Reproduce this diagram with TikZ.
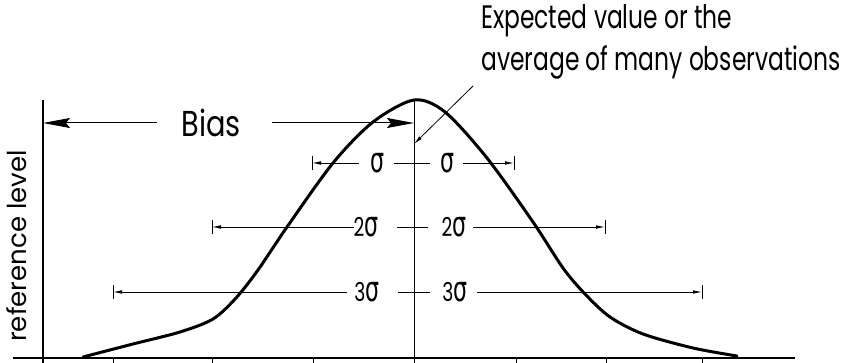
\documentclass[tikz,border=0pt]{standalone}
\usepackage{fontspec}
\usepackage{graphicx}
\setmainfont{Poppins}[FakeStretch=0.72]
\newfontfamily\pbias{Poppins}[FakeStretch=0.8]
\newfontfamily\pref{Poppins}
\newfontfamily\grk{DejaVu Sans}[FakeStretch=0.85]
\usetikzlibrary{arrows.meta}
\newcommand{\sgm}{{\grk\scalebox{1}[1.35]{σ}}}
\begin{document}
\begin{tikzpicture}[x=1pt,y=-1pt,
  axisline/.style={line width=1.3pt},
  thinline/.style={line width=0.8pt},
  curveline/.style={line width=3pt,line cap=round,line join=round},
  dimarrow/.style={line width=0.8pt,-{Latex[length=9pt,width=3.6pt]}},
  bigarrow/.style={line width=1pt,-{Stealth[length=27pt,width=10pt,inset=4pt]}},
  lbl/.style={inner sep=0pt,font=\fontsize{26}{26}\selectfont},
  biasfont/.style={inner sep=0pt,font=\pbias\fontsize{36}{36}\selectfont},
  reffont/.style={inner sep=0pt,font=\pref\fontsize{26}{26}\selectfont},
  txt/.style={inner sep=0pt,font=\fontsize{32.5}{42}\selectfont,align=left}]
\useasboundingbox (0,0) rectangle (845,363);
% axes
\coordinate (Xl) at (13,358);
\coordinate (Xr) at (795,358);
\coordinate (Yb) at (43,363);
\coordinate (Yt) at (43,100);
\coordinate (Cb) at (414,363);
\coordinate (Ct) at (414,100);
\draw[axisline] (Xl) -- (Xr);
\draw[axisline] (Yb) -- (Yt);
\draw[thinline] (Cb) -- (Ct);
\foreach \x in {113,212,313,516,606,702}
  \draw[thinline] (\x,358) -- (\x,363);
% curve
\draw[curveline] plot[smooth,tension=0.5] coordinates {
 (83,357) (133,344) (180,332) (213,319) (236,298) (258,270) (287,227)
 (333,163) (373,122) (414,100) (445,112) (487,158) (533,222) (563,268)
 (585,294) (610,317) (643,334) (693,348) (737,356)};
% bias
\node[biasfont] (bias) at (211,123) {Bias};
\coordinate (bL) at (157,123);
\coordinate (bLt) at (43,123);
\coordinate (bR) at (272,123);
\coordinate (bRt) at (414,123);
\draw[bigarrow] (bL) -- (bLt);
\draw[bigarrow] (bR) -- (bRt);
% expected value label
\node[txt,anchor=base west] (exp) at (481,71) {Expected value or the\\average of many observations};
\coordinate (pS) at (473,86);
\coordinate (pE) at (414,144);
\draw[dimarrow] (pS) -- (pE);
% reference level
\node[reffont,rotate=90,anchor=base] (ref) at (27,246) {reference level};
% sigma rows
\foreach \nm/\y/\lx/\ll/\lc/\cl/\cr/\rc/\rl/\rx/\txt in
  {a/163/312/359/377/394/430/447/463/514/{},
   b/227/212/354/366/397/428/454/473/605/2,
   c/292/113/347/367/398/430/455/477/702/3}{
  \node[lbl] (l\nm) at (\lc,\y) {\txt\sgm};
  \node[lbl] (r\nm) at (\rc,\y) {\txt\sgm};
  \coordinate (ls\nm) at (\ll,\y);
  \coordinate (le\nm) at (\lx,\y);
  \coordinate (rs\nm) at (\rl,\y);
  \coordinate (re\nm) at (\rx,\y);
  \coordinate (cl\nm) at (\cl,\y);
  \coordinate (cr\nm) at (\cr,\y);
  \draw[dimarrow] (ls\nm) -- (le\nm);
  \draw[dimarrow] (rs\nm) -- (re\nm);
  \draw[thinline] (cl\nm) -- (cr\nm);
  \draw[thinline] ([yshift=-7pt]le\nm) -- ([yshift=7pt]le\nm);
  \draw[thinline] ([yshift=-7pt]re\nm) -- ([yshift=7pt]re\nm);
}
\end{tikzpicture}
\end{document}
